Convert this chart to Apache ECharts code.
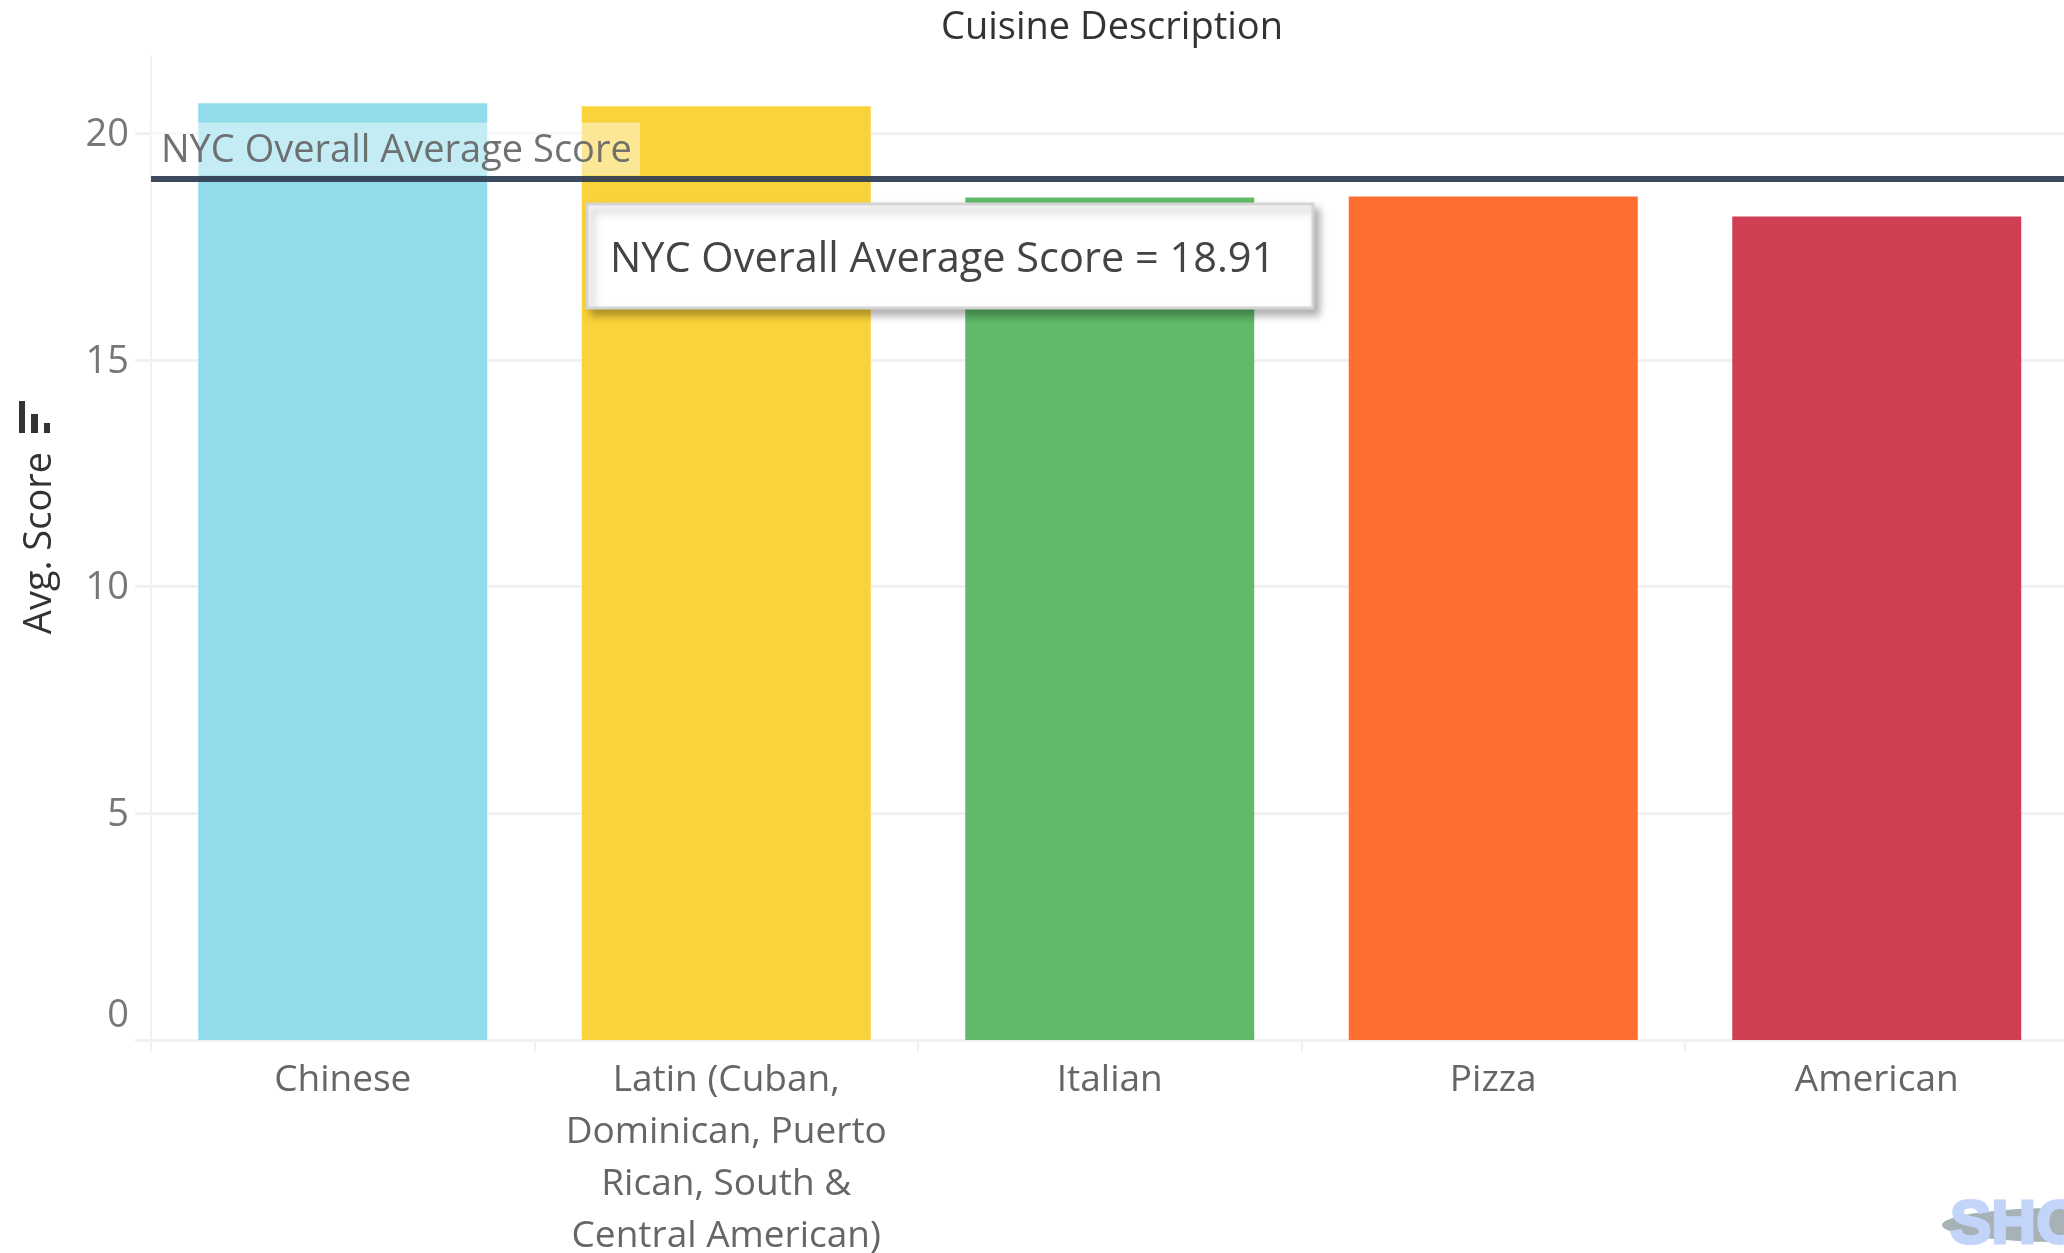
<!DOCTYPE html>
<html>
<head>
<meta charset="utf-8">
<title>Cuisine Description</title>
<script src="https://cdn.jsdelivr.net/npm/echarts@6/dist/echarts.min.js"></script>
<style>
	html,body{margin:0;padding:0;background:#fff;overflow:hidden;}
	#chart{width:2064px;height:1253px;}
</style>
</head>
<body>
<div id="chart"></div>
<script>
var categories = ['Chinese','Latin (Cuban,\nDominican, Puerto\nRican, South &\nCentral American)','Italian','Pizza','American'];
var avgScores = [20.66,20.59,18.58,18.6,18.16];
var barColors = ['#91dcea','#fad33a','#5fba69','#ff6e31','#d03e54'];
var overallAvgLine = 19.0;   // where the line sits in the picture
var overallAvgLabel = 'NYC Overall Average Score';
var overallAvgTip = 'NYC Overall Average Score = 18.91';
var axisGray = '#f1f1f1';
var textFont = 'Open Sans';

var myChart = echarts.init(document.getElementById('chart'));

var option = {
	animation:false,
	backgroundColor:'#fff',
	title:{
		text:'Cuisine Description',
		left:1107,
		top:4,
		textAlign:'center',
		textStyle:{fontFamily:textFont,fontSize:38,fontWeight:'normal',color:'#333'}
	},
	grid:{left:151,top:56,width:1917.5,height:984,containLabel:false,outerBoundsMode:'none'},
	xAxis:{
		type:'category',
		data:categories,
		axisLine:{show:true,lineStyle:{color:axisGray,width:3}},
		axisTick:{show:true,length:12,lineStyle:{color:axisGray,width:2}},
		axisLabel:{
			interval:0,
			margin:14,
			fontFamily:textFont,
			fontSize:37,
			lineHeight:52,
			color:'#666',
			hideOverlap:false
		}
	},
	yAxis:{
		type:'value',
		min:0,
		max:21.7,
		interval:5,
		name:'Avg. Score',
		nameLocation:'middle',
		nameGap:92,
		nameTextStyle:{fontFamily:textFont,fontSize:38,color:'#333',padding:[0,0,0,10]},
		axisLine:{show:true,lineStyle:{color:axisGray,width:2}},
		axisTick:{show:true,length:16,lineStyle:{color:axisGray,width:3}},
		splitLine:{show:true,showMaxLine:false,lineStyle:{color:axisGray,width:3}},
		axisLabel:{
			showMaxLabel:false,
			margin:22,
			padding:[4,0,0,0],
			fontFamily:textFont,
			fontSize:38,
			color:'#777',
			formatter:function(v){
				// the 0 sits above the baseline
				return v===0 ? '{zero|0}' : String(v);
			},
			rich:{zero:{fontFamily:textFont,fontSize:38,color:'#777',padding:[0,0,52,0]}}
		}
	},
	series:[{
		type:'bar',
		barWidth:289,
		data:avgScores.map(function(v,i){
			return {value:v,itemStyle:{color:barColors[i]}};
		}),
		markLine:{
			silent:true,
			symbol:'none',
			data:[{yAxis:overallAvgLine}],
			lineStyle:{color:'#2f3d53',width:6,type:'solid',opacity:0.93},
			label:{
				show:true,
				position:'insideStartTop',
				distance:[0,3],
				formatter:overallAvgLabel,
				fontFamily:textFont,
				fontSize:38,
				color:'#666',
				backgroundColor:'rgba(255,255,255,0.5)',
				padding:[10,8,5,10]
			}
		}
	}],
	graphic:[
		// sort icon above the axis name
		{type:'rect',shape:{x:19,y:401,width:6,height:32},style:{fill:'#333'}},
		{type:'rect',shape:{x:31,y:414,width:7,height:19},style:{fill:'#333'}},
		{type:'rect',shape:{x:44,y:423,width:6,height:10},style:{fill:'#333'}},
		// tooltip box
		{
			type:'rect',
			z:100,
			shape:{x:587,y:204,width:726,height:104},
			style:{fill:'#fff',stroke:'#d4d4d4',lineWidth:3,shadowBlur:8,shadowOffsetX:5,shadowOffsetY:6,shadowColor:'rgba(0,0,0,0.3)'}
		},
		{
			type:'text',
			z:101,
			style:{x:610,y:260,text:overallAvgTip,fontFamily:textFont,fontSize:41.5,fill:'#444',verticalAlign:'middle'}
		},
		// watermark, bottom right
		{type:'ellipse',z:50,shape:{cx:2060,cy:1225,rx:118,ry:17},style:{fill:'#a6b2b6'}},
		{
			type:'text',
			z:51,
			style:{x:1950,y:1226,text:'SHO',fontFamily:'Liberation Sans',fontWeight:'bold',fontSize:62,fill:'#c3d4fb',stroke:'#c3d4fb',lineWidth:3,verticalAlign:'middle'}
		}
	]
};
myChart.setOption(option);
</script>
</body>
</html>
